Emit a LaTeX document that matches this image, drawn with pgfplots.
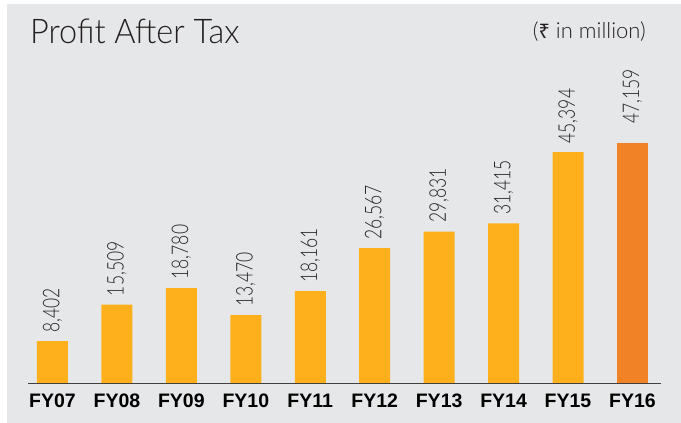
\documentclass[border=0pt]{standalone}
\usepackage{fontspec}
\usepackage{pgfplots}
\usepackage{pgfplotstable}
\pgfplotsset{compat=1.18}
\setmainfont{Liberation Sans}
\newfontfamily\lightf{Lato Light}
\newfontfamily\titlef{Lato Light}[FakeStretch=0.955]
\newfontfamily\valf{Lato Light}[FakeStretch=0.76]
\newfontfamily\boldf{Liberation Sans}[BoldFont={Liberation Sans Bold}]
\newfontfamily\rupee{Noto Sans}
\definecolor{bgc}{HTML}{E6E7E8}
\definecolor{barc}{HTML}{FDB01C}
\definecolor{lastc}{HTML}{F28226}
\definecolor{txt}{HTML}{231F20}
\pgfplotstableread{
x label y
0 8,402 8402
1 15,509 15509
2 18,780 18780
3 13,470 13470
4 18,161 18161
5 26,567 26567
6 29,831 29831
7 31,415 31415
8 45,394 45394
}\data
\begin{document}
\begin{tikzpicture}[x=1pt,y=1pt]
\fill[white] (0,0) rectangle (681,423);
\fill[bgc] (7,0) rectangle (681,419);
\node[anchor=base west, inner sep=0, text=txt, font=\titlef\fontsize{34}{40}\selectfont] at (30,379.7) {Profit After Tax};
\node[anchor=base east, inner sep=0, text=txt, font=\lightf\fontsize{22}{26}\selectfont] at (646,384.7) {({\rupee\fontsize{20}{24}\selectfont ₹} in million)};
\begin{axis}[
  at={(28pt,39pt)}, anchor=south west,
  scale only axis, width=633pt, height=306.6pt,
  xmin=-0.380, xmax=9.443, ymin=0, ymax=60000,
  clip=false,
  axis line style={draw=none},
  ytick=\empty,
  xtick={0,...,9},
  xticklabels={FY07,FY08,FY09,FY10,FY11,FY12,FY13,FY14,FY15,FY16},
  major tick length=0pt,
  xticklabel style={anchor=north, inner sep=0pt, yshift=-10pt, font=\boldf\bfseries\fontsize{19.5}{22}\selectfont, text=black},
  ybar, bar width=31pt, bar shift=0pt,
  point meta=explicit symbolic,
  nodes near coords={\pgfplotspointmeta},
  nodes near coords style={rotate=90, anchor=west, inner ysep=0pt, inner xsep=8.5pt, font=\valf\fontsize{23}{27}\selectfont, text=black!85},
]
\addplot[fill=barc, draw=none] table[x=x, y=y, meta=label] {\data};
\addplot[fill=lastc, draw=none, nodes near coords style={inner xsep=19pt}] coordinates {(9,47159) [47,159]};
\draw[line width=1pt, color=black!75] (rel axis cs:0,0) -- (rel axis cs:1,0);
\end{axis}
\pgfresetboundingbox
\path (0,0) rectangle (681,423);
\end{tikzpicture}
\end{document}
